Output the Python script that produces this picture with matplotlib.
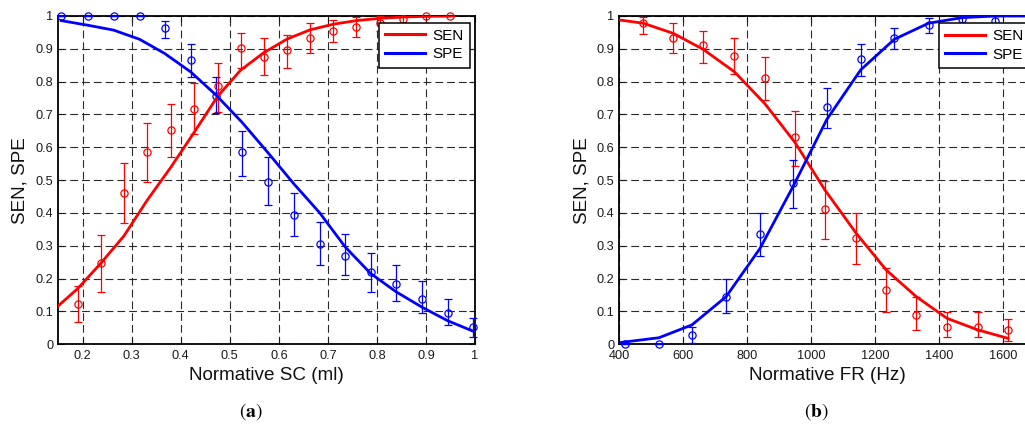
import numpy as np
import matplotlib
matplotlib.use("Agg")
import matplotlib.pyplot as plt
from matplotlib.lines import Line2D

plt.rcParams['font.family'] = ['Liberation Sans', 'DejaVu Sans']
plt.rcParams['mathtext.fontset'] = 'stix'

# ---------------- data: panel (a) ----------------
x_a_sen = [0.190, 0.237, 0.284, 0.332, 0.380, 0.427, 0.475, 0.522, 0.569, 0.617, 0.664, 0.711, 0.758, 0.807, 0.854, 0.901, 0.949]
sen_a = [0.122, 0.247, 0.460, 0.585, 0.653, 0.718, 0.787, 0.903, 0.876, 0.897, 0.932, 0.955, 0.966, 0.980, 0.990, 1.0, 1.0]
sen_a_lo = [0.067, 0.159, 0.368, 0.493, 0.572, 0.640, 0.709, 0.841, 0.819, 0.842, 0.886, 0.920, 0.935, 0.955, 0.978, 1.0, 1.0]
sen_a_hi = [0.179, 0.333, 0.551, 0.673, 0.731, 0.797, 0.856, 0.949, 0.932, 0.943, 0.978, 0.988, 0.998, 1.0, 1.0, 1.0, 1.0]

x_a_spe = [0.156, 0.210, 0.263, 0.316, 0.367, 0.420, 0.472, 0.525, 0.577, 0.631, 0.683, 0.735, 0.787, 0.839, 0.892, 0.944, 0.996]
spe_a = [1.0, 1.0, 1.0, 1.0, 0.962, 0.866, 0.757, 0.585, 0.495, 0.395, 0.306, 0.269, 0.219, 0.183, 0.137, 0.094, 0.052]
spe_a_lo = [1.0, 1.0, 1.0, 1.0, 0.932, 0.815, 0.704, 0.513, 0.423, 0.330, 0.241, 0.210, 0.159, 0.132, 0.094, 0.059, 0.023]
spe_a_hi = [1.0, 1.0, 1.0, 1.0, 0.986, 0.914, 0.815, 0.650, 0.570, 0.460, 0.372, 0.335, 0.277, 0.241, 0.192, 0.137, 0.079]

fit_a_sen_x = [0.15, 0.190, 0.237, 0.284, 0.332, 0.380, 0.427, 0.475, 0.522, 0.569, 0.617, 0.664, 0.711, 0.758, 0.807, 0.854, 0.901, 0.949]
fit_a_sen_y = [0.117, 0.170, 0.247, 0.330, 0.440, 0.540, 0.645, 0.755, 0.835, 0.888, 0.930, 0.958, 0.975, 0.986, 0.993, 0.997, 0.999, 1.0]
fit_a_spe_x = [0.156, 0.210, 0.263, 0.316, 0.367, 0.420, 0.472, 0.525, 0.577, 0.631, 0.683, 0.735, 0.787, 0.839, 0.892, 0.944, 0.996]
fit_a_spe_y = [0.986, 0.972, 0.957, 0.929, 0.886, 0.830, 0.759, 0.676, 0.585, 0.488, 0.401, 0.297, 0.216, 0.160, 0.113, 0.072, 0.040]

# ---------------- data: panel (b) ----------------
x_b_sen = [475, 569, 663, 760, 856, 950, 1043, 1141, 1235, 1329, 1425, 1521, 1616]
sen_b = [0.978, 0.932, 0.912, 0.878, 0.812, 0.632, 0.411, 0.323, 0.165, 0.089, 0.054, 0.054, 0.044]
sen_b_lo = [0.944, 0.888, 0.856, 0.823, 0.744, 0.544, 0.321, 0.245, 0.099, 0.044, 0.022, 0.022, 0.011]
sen_b_hi = [0.998, 0.978, 0.955, 0.932, 0.876, 0.711, 0.497, 0.399, 0.231, 0.143, 0.099, 0.099, 0.076]

x_b_spe = [418, 524, 627, 734, 840, 943, 1049, 1155, 1260, 1367, 1472, 1576]
spe_b = [0.0, 0.0, 0.028, 0.145, 0.335, 0.490, 0.724, 0.868, 0.934, 0.973, 0.990, 0.986]
spe_b_lo = [0.0, 0.0, 0.005, 0.094, 0.269, 0.414, 0.658, 0.817, 0.898, 0.949, 0.980, 0.975]
spe_b_hi = [0.0, 0.0, 0.052, 0.198, 0.399, 0.561, 0.782, 0.914, 0.964, 0.993, 1.0, 1.0]

fit_b_sen_x = [400, 475, 569, 663, 760, 856, 950, 1043, 1141, 1235, 1329, 1425, 1521, 1616]
fit_b_sen_y = [0.988, 0.978, 0.947, 0.898, 0.830, 0.732, 0.614, 0.470, 0.338, 0.226, 0.145, 0.079, 0.044, 0.018]
fit_b_spe_x = [400, 524, 627, 734, 840, 943, 1049, 1155, 1260, 1367, 1472, 1576, 1700]
fit_b_spe_y = [0.005, 0.020, 0.059, 0.145, 0.292, 0.480, 0.685, 0.836, 0.929, 0.978, 0.995, 1.0, 1.0]

y_ticks = [0, 0.1, 0.2, 0.3, 0.4, 0.5, 0.6, 0.7, 0.8, 0.9, 1]
y_ticklabels = ['0', '0.1', '0.2', '0.3', '0.4', '0.5', '0.6', '0.7', '0.8', '0.9', '1']
x_a_ticks = [0.2, 0.3, 0.4, 0.5, 0.6, 0.7, 0.8, 0.9, 1]
x_a_ticklabels = ['0.2', '0.3', '0.4', '0.5', '0.6', '0.7', '0.8', '0.9', '1']
x_b_ticks = [400, 600, 800, 1000, 1200, 1400, 1600]
x_b_ticklabels = ['400', '600', '800', '1000', '1200', '1400', '1600']

RED = '#ff0000'
BLUE = '#0000ff'
W, H = 1025, 426

fig = plt.figure(figsize=(W / 100, H / 100), dpi=100)


def px_rect(l, t, r, b):
    return [l / W, 1 - b / H, (r - l) / W, (b - t) / H]


def style_axes(ax, xticks, xticklabels, xlim, xlabel, ylabel_x_px, ax_l, ax_r):
    ax.set_xlim(*xlim)
    ax.set_ylim(0, 1)
    ax.set_xticks(xticks)
    ax.set_xticklabels(xticklabels)
    ax.set_yticks(y_ticks)
    ax.set_yticklabels(y_ticklabels)
    ax.tick_params(direction='in', length=4, width=0.8, top=True, right=True,
                   labelsize=9.2, colors='#1a1a1a', pad=3.5)
    ax.tick_params(axis='x', pad=4)
    ax.grid(True, color='#2a2a2a', linestyle=(0, (7, 3.6)), linewidth=0.8)
    ax.set_axisbelow(True)
    for s in ax.spines.values():
        s.set_linewidth(1.3)
        s.set_color('black')
    ax.set_xlabel(xlabel, fontsize=13.6, color='#111111')
    ax.set_ylabel('SEN, SPE', fontsize=13.6, color='#111111')
    wpx = ax_r - ax_l
    ax.xaxis.set_label_coords(0.5, (344.3 - 375.5) / 328.3)
    ax.xaxis.label.set_verticalalignment('center')
    ax.yaxis.set_label_coords((ylabel_x_px - ax_l) / wpx, 0.5)
    ax.yaxis.label.set_verticalalignment('center')


def draw_points(ax, x, y, lo, hi, color):
    y = np.asarray(y)
    yerr = [y - np.asarray(lo), np.asarray(hi) - y]
    c = ax.errorbar(x, y, yerr=yerr, fmt='o', color=color, mfc='none', mec=color,
                    ms=5.2, mew=0.9, elinewidth=0.9, capsize=3.1, capthick=0.9, zorder=3)
    for art in c.get_children():
        art.set_clip_on(False)


# panel (a)
a_l, a_t, a_r, a_b = 58.2, 16.0, 475.0, 344.3
ax1 = fig.add_axes(px_rect(a_l, a_t, a_r, a_b))
style_axes(ax1, x_a_ticks, x_a_ticklabels, (0.15, 1.0), 'Normative SC (ml)', 20, a_l, a_r)
draw_points(ax1, x_a_sen, sen_a, sen_a_lo, sen_a_hi, RED)
draw_points(ax1, x_a_spe, spe_a, spe_a_lo, spe_a_hi, BLUE)
ax1.plot(fit_a_sen_x, fit_a_sen_y, color=RED, lw=2.0, zorder=4)
ax1.plot(fit_a_spe_x, fit_a_spe_y, color=BLUE, lw=2.0, zorder=4)

# panel (b)
b_l, b_t, b_r, b_b = 619.3, 16.0, 1035.0, 344.3
ax2 = fig.add_axes(px_rect(b_l, b_t, b_r, b_b))
style_axes(ax2, x_b_ticks, x_b_ticklabels, (400, 1700), 'Normative FR (Hz)', 582, b_l, b_r)
draw_points(ax2, x_b_sen, sen_b, sen_b_lo, sen_b_hi, RED)
draw_points(ax2, x_b_spe, spe_b, spe_b_lo, spe_b_hi, BLUE)
ax2.plot(fit_b_sen_x, fit_b_sen_y, color=RED, lw=2.0, zorder=4)
ax2.plot(fit_b_spe_x, fit_b_spe_y, color=BLUE, lw=2.0, zorder=4)

# legends
handles = [Line2D([], [], color=RED, lw=2.2), Line2D([], [], color=BLUE, lw=2.2)]
for ax, lx, ly in [(ax1, 379.3, 22.7), (ax2, 938.7, 23.0)]:
    leg = ax.legend(handles, ['SEN', 'SPE'], loc='upper left',
                    bbox_to_anchor=(lx / W, 1 - ly / H), bbox_transform=fig.transFigure,
                    borderaxespad=0, fontsize=11, handlelength=2.6, handletextpad=0.5,
                    borderpad=0.4, labelspacing=0.3, fancybox=False, framealpha=1,
                    edgecolor='black')
    leg.get_frame().set_linewidth(1.1)
    leg.set_zorder(10)

# panel captions
fig.text(251 / W, 1 - 411.5 / H, r'$(\mathbf{a})$', ha='center', va='center', fontsize=14)
fig.text(816 / W, 1 - 411.5 / H, r'$(\mathbf{b})$', ha='center', va='center', fontsize=14)

fig.savefig('out.png', dpi=100)
